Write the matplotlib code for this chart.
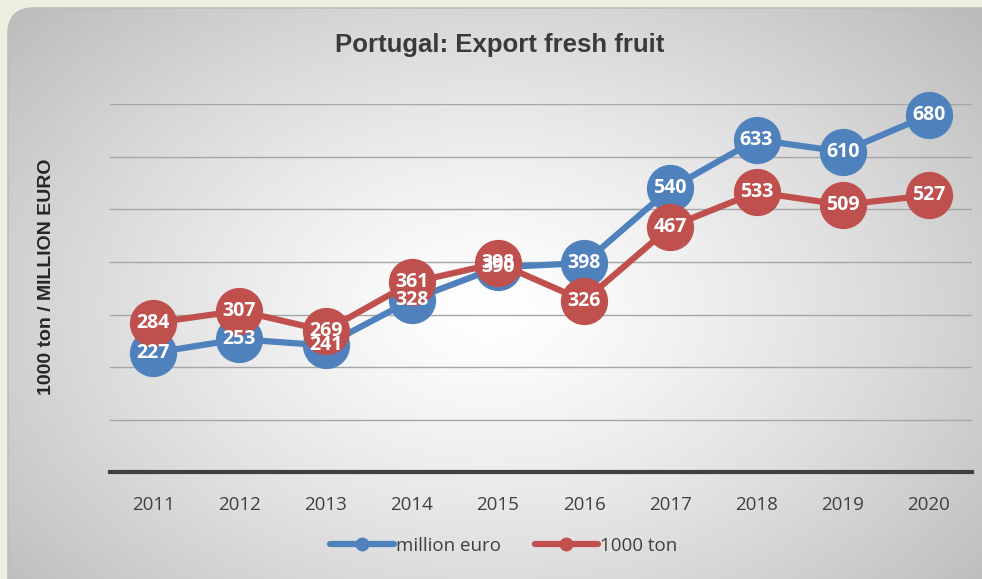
import numpy as np
import matplotlib.pyplot as plt
from matplotlib.patches import FancyBboxPatch

years = ["2011", "2012", "2013", "2014", "2015", "2016", "2017", "2018", "2019", "2020"]
million_euro = [227, 253, 241, 328, 390, 398, 540, 633, 610, 680]
kton = [284, 307, 269, 361, 398, 326, 467, 533, 509, 527]

blue = "#4F81BD"
red = "#C0504D"

W, H = 982, 579
fig = plt.figure(figsize=(W / 100, H / 100), dpi=100, facecolor="#EBF1DE")

# background panel with radial grey gradient
bg = fig.add_axes([0, 0, 1, 1])
bg.set_xlim(0, W)
bg.set_ylim(H, 0)
bg.axis("off")
xx, yy = np.meshgrid(np.arange(W), np.arange(H))
d = np.sqrt(((xx - 490) / 520) ** 2 + ((yy - 310) / 360) ** 2)
v = np.clip(1 - 0.2 * d ** 1.3, 0, 1)
img = bg.imshow(np.dstack([v, v, v]), extent=(0, W, H, 0), zorder=1)
box = FancyBboxPatch((8, 8), 1040, 640, boxstyle="round,pad=0,rounding_size=26",
                     transform=bg.transData, facecolor="none", edgecolor="#BDBDBD", lw=1.2, zorder=2)
bg.add_patch(box)
img.set_clip_path(box)

ax = fig.add_axes([110 / W, (H - 472) / H, 862 / W, 367.5 / H])
ax.patch.set_alpha(0)
x = np.arange(len(years))

ax.set_xlim(-0.5, len(years) - 0.5)
ax.set_ylim(0, 700)
ax.set_yticks(np.arange(100, 701, 100))
ax.yaxis.grid(True, color="#A6A6A6", lw=1.0)
ax.tick_params(axis="y", left=False, labelleft=False)
ax.tick_params(axis="x", bottom=False, pad=14)
ax.set_xticks(x)
ax.set_xticklabels(years, fontsize=13.5, color="#404040", family="Open Sans")
for s in ["top", "right", "left"]:
    ax.spines[s].set_visible(False)
ax.spines["bottom"].set_color("#404040")
ax.spines["bottom"].set_linewidth(3)

ax.plot(x, million_euro, color=blue, lw=4.5, marker="o", ms=33, label="million euro",
        solid_capstyle="round", clip_on=False, zorder=3)
ax.plot(x, kton, color=red, lw=4.5, marker="o", ms=33, label="1000 ton",
        solid_capstyle="round", clip_on=False, zorder=4)

for vals in (million_euro, kton):
    for xi, val in zip(x, vals):
        ax.text(xi, val, str(val), color="white", fontsize=14, fontweight="bold",
                family="Open Sans", ha="center", va="center", zorder=6)

ax.set_ylabel("1000 ton / MILLION EURO", fontsize=14, fontweight="bold",
              color="#262626", family="Liberation Sans", va="center")
ax.yaxis.set_label_coords(-63 / 862, 0.53)

fig.text(0.509, 0.922, "Portugal: Export fresh fruit", ha="center", va="center",
         fontsize=18.5, fontweight="bold", color="#3A3A3A", family="Liberation Sans")

h1, = ax.plot([], [], color=blue, lw=4.5, marker="o", ms=9, solid_capstyle="round")
h2, = ax.plot([], [], color=red, lw=4.5, marker="o", ms=9, solid_capstyle="round")
fig.legend([h1, h2], ["million euro", "1000 ton"], loc="center", bbox_to_anchor=(0.513, 0.057),
           ncol=2, frameon=False, handlelength=3.4, handletextpad=0.1, columnspacing=1.8,
           prop={"family": "Open Sans", "size": 13.5}, labelcolor="#404040")

fig.savefig("out.png", dpi=100, facecolor=fig.get_facecolor())
